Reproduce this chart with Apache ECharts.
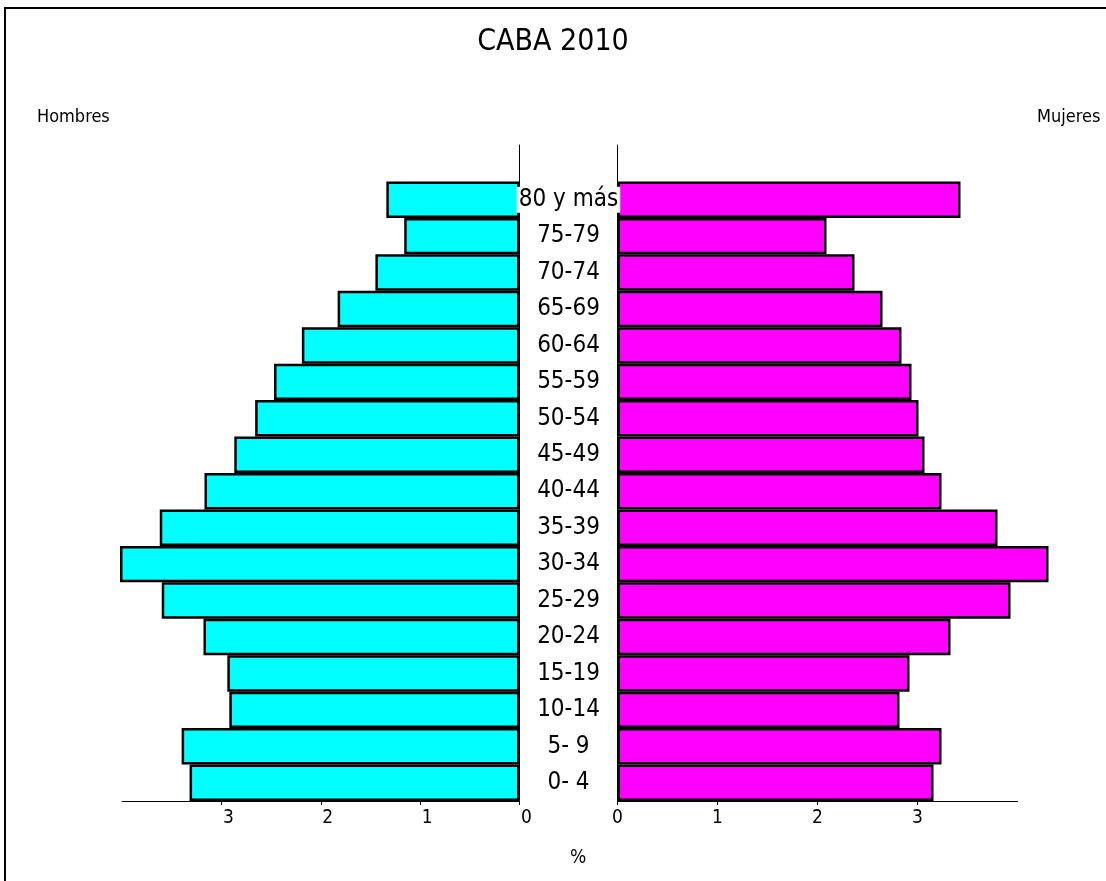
<!DOCTYPE html>
<html>
<head>
<meta charset="utf-8">
<title>CABA 2010</title>
<script src="https://cdn.jsdelivr.net/npm/echarts@6/dist/echarts.min.js"></script>
<style>
  html, body { margin: 0; padding: 0; background: #fff; }
  #main { width: 1106px; height: 881px; }
</style>
</head>
<body>
<div id="main"></div>
<script>
// grupos de edad, de abajo hacia arriba
var ageGroups = ['0- 4', '5- 9', '10-14', '15-19', '20-24', '25-29', '30-34', '35-39',
  '40-44', '45-49', '50-54', '55-59', '60-64', '65-69', '70-74', '75-79', '80 y más']
// porcentaje de la poblacion
var hombres = [3.32, 3.40, 2.92, 2.94, 3.18, 3.60, 4.02, 3.62,
  3.17, 2.87, 2.66, 2.47, 2.19, 1.83, 1.45, 1.16, 1.34]
var mujeres = [3.16, 3.24, 2.82, 2.92, 3.33, 3.93, 4.31, 3.80,
  3.24, 3.07, 3.01, 2.94, 2.84, 2.65, 2.37, 2.09, 3.43]
var tickValues = [0, 1, 2, 3]

var narrow = "'Liberation Sans Narrow', 'DejaVu Sans Condensed', 'Liberation Sans', sans-serif"

// una categoria vacia arriba deja el espacio sobre la barra de 80 y mas
var cats = ageGroups.concat([''])
var hData = hombres.concat([null])
var mData = mujeres.concat([null])

var chart = echarts.init(document.getElementById('main'))

function xAxisFor(idx, inverse, labelPad) {
  return {
    type: 'value',
    gridIndex: idx,
    inverse: inverse,
    min: 0,
    max: 4,
    interval: 1,
    splitLine: { show: false },
    axisLine: { show: true, lineStyle: { color: '#000', width: 1 } },
    axisTick: { show: true, length: 4, customValues: tickValues, lineStyle: { color: '#000' } },
    axisLabel: {
      customValues: tickValues,
      formatter: function(v) { return v === 4 ? '' : String(v) },
      color: '#000',
      fontFamily: narrow,
      fontSize: 19,
      margin: 8,
      padding: labelPad
    }
  }
}

chart.setOption({
  animation: false,
  backgroundColor: '#fff',
  title: {
    text: 'CABA 2010',
    left: 'center',
    top: 22,
    textStyle: { color: '#000', fontWeight: 'normal', fontSize: 30, fontFamily: narrow }
  },
  graphic: [
    {
      type: 'rect',
      shape: { x: 5, y: 8, width: 1300, height: 1000 },
      style: { fill: null, stroke: '#000', lineWidth: 2 },
      silent: true
    },
    {
      type: 'text', left: 37, top: 108,
      style: { text: 'Hombres', fill: '#000', font: '18px ' + narrow }
    },
    {
      type: 'text', left: 1037, top: 108,
      style: { text: 'Mujeres', fill: '#000', font: '18px ' + narrow }
    },
    {
      type: 'text', left: 570, top: 849,
      style: { text: '%', fill: '#000', font: '19px ' + narrow }
    }
  ],
  grid: [
    { left: 122, top: 145, width: 397.5, height: 656 },
    { left: 617.5, top: 145, width: 400, height: 656 }
  ],
  xAxis: [
    xAxisFor(0, true, [0, 0, 0, 14]),
    xAxisFor(1, false, 0)
  ],
  yAxis: [
    {
      type: 'category',
      gridIndex: 0,
      position: 'right',
      data: cats,
      z: 5,
      axisLine: { show: true, lineStyle: { color: '#000', width: 1 } },
      axisTick: { show: false },
      axisLabel: {
        align: 'center',
        margin: 49,
        interval: 0,
        color: '#000',
        fontFamily: narrow,
        fontSize: 24,
        backgroundColor: '#fff',
        padding: [1, 2]
      }
    },
    {
      type: 'category',
      gridIndex: 1,
      position: 'left',
      data: cats,
      axisLine: { show: true, lineStyle: { color: '#000', width: 1 } },
      axisTick: { show: false },
      axisLabel: { show: false }
    }
  ],
  series: [
    {
      name: 'Hombres',
      type: 'bar',
      xAxisIndex: 0,
      yAxisIndex: 0,
      data: hData,
      barCategoryGap: '0%',
      clip: false,
      itemStyle: { color: '#00ffff', borderColor: '#000', borderWidth: 2.5 }
    },
    {
      name: 'Mujeres',
      type: 'bar',
      xAxisIndex: 1,
      yAxisIndex: 1,
      data: mData,
      barCategoryGap: '0%',
      clip: false,
      itemStyle: { color: '#ff00ff', borderColor: '#000', borderWidth: 2.5 }
    }
  ]
})
</script>
</body>
</html>
